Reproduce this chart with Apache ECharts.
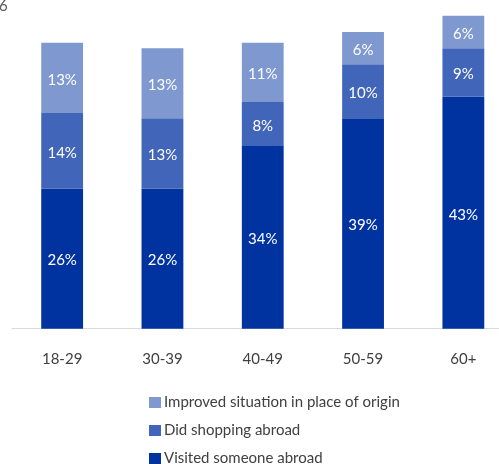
<!DOCTYPE html>
<html>
<head>
<meta charset="utf-8">
<script src="https://cdn.jsdelivr.net/npm/echarts@6/dist/echarts.min.js"></script>
<style>
  html, body { margin: 0; padding: 0; background: #fff; }
  #chart { width: 499px; height: 464px; }
</style>
</head>
<body>
<div id="chart"></div>
<script>
// Age groups along the x-axis
const ageGroups = ['18-29', '30-39', '40-49', '50-59', '60+'];

// Share of respondents (%) per reason, stacked bottom to top
const visitedSomeone = [26, 26, 34, 39, 43];
const didShopping = [14, 13, 8, 10, 9];
const improvedSituation = [13, 13, 11, 6, 6];

const seriesNames = [
  'Visited someone abroad',
  'Did shopping abroad',
  'Improved situation in place of origin'
];

const colors = {
  dark: '#0033a0',
  mid: '#4165b8',
  light: '#7f99d0'
};

const fontFamily = 'Lato, "Open Sans", sans-serif';

const chart = echarts.init(document.getElementById('chart'), null, { renderer: 'canvas' });

function stackSeries(name, data, color) {
  return {
    name: name,
    type: 'bar',
    stack: 'total',
    data: data,
    barWidth: '41.7%',
    itemStyle: { color: color },
    label: {
      show: true,
      position: 'inside',
      offset: [0, 2],
      formatter: '{c}%',
      color: '#ffffff',
      fontSize: 15,
      fontFamily: fontFamily
    },
    emphasis: { disabled: true }
  };
}

chart.setOption({
  animation: false,
  textStyle: { fontFamily: fontFamily },
  graphic: [{
    type: 'text',
    left: -1,
    top: -1,
    style: { text: '6', fontSize: 15, fill: '#595959', fontFamily: fontFamily }
  }],
  legend: {
    orient: 'vertical',
    left: 149,
    top: 395,
    height: 100,
    padding: 0,
    itemWidth: 12,
    itemHeight: 11,
    itemGap: 13,
    icon: 'rect',
    data: [seriesNames[2], seriesNames[1], seriesNames[0]],
    textStyle: { fontSize: 15, color: '#404040', lineHeight: 15, fontFamily: fontFamily, padding: [0, 0, 0, -2] }
  },
  grid: {
    left: 12,
    top: 5,
    width: 501.5,
    bottom: 135.3,
    outerBoundsMode: 'none'
  },
  xAxis: {
    type: 'category',
    data: ageGroups,
    axisLine: { lineStyle: { color: '#d9d9d9', width: 1 } },
    axisTick: { show: false },
    axisLabel: { color: '#404040', fontSize: 15, margin: 23, fontFamily: fontFamily }
  },
  yAxis: {
    type: 'value',
    min: 0,
    max: 60,
    show: false,
    splitLine: { show: false }
  },
  series: [
    stackSeries(seriesNames[0], visitedSomeone, colors.dark),
    stackSeries(seriesNames[1], didShopping, colors.mid),
    stackSeries(seriesNames[2], improvedSituation, colors.light)
  ]
});
</script>
</body>
</html>
